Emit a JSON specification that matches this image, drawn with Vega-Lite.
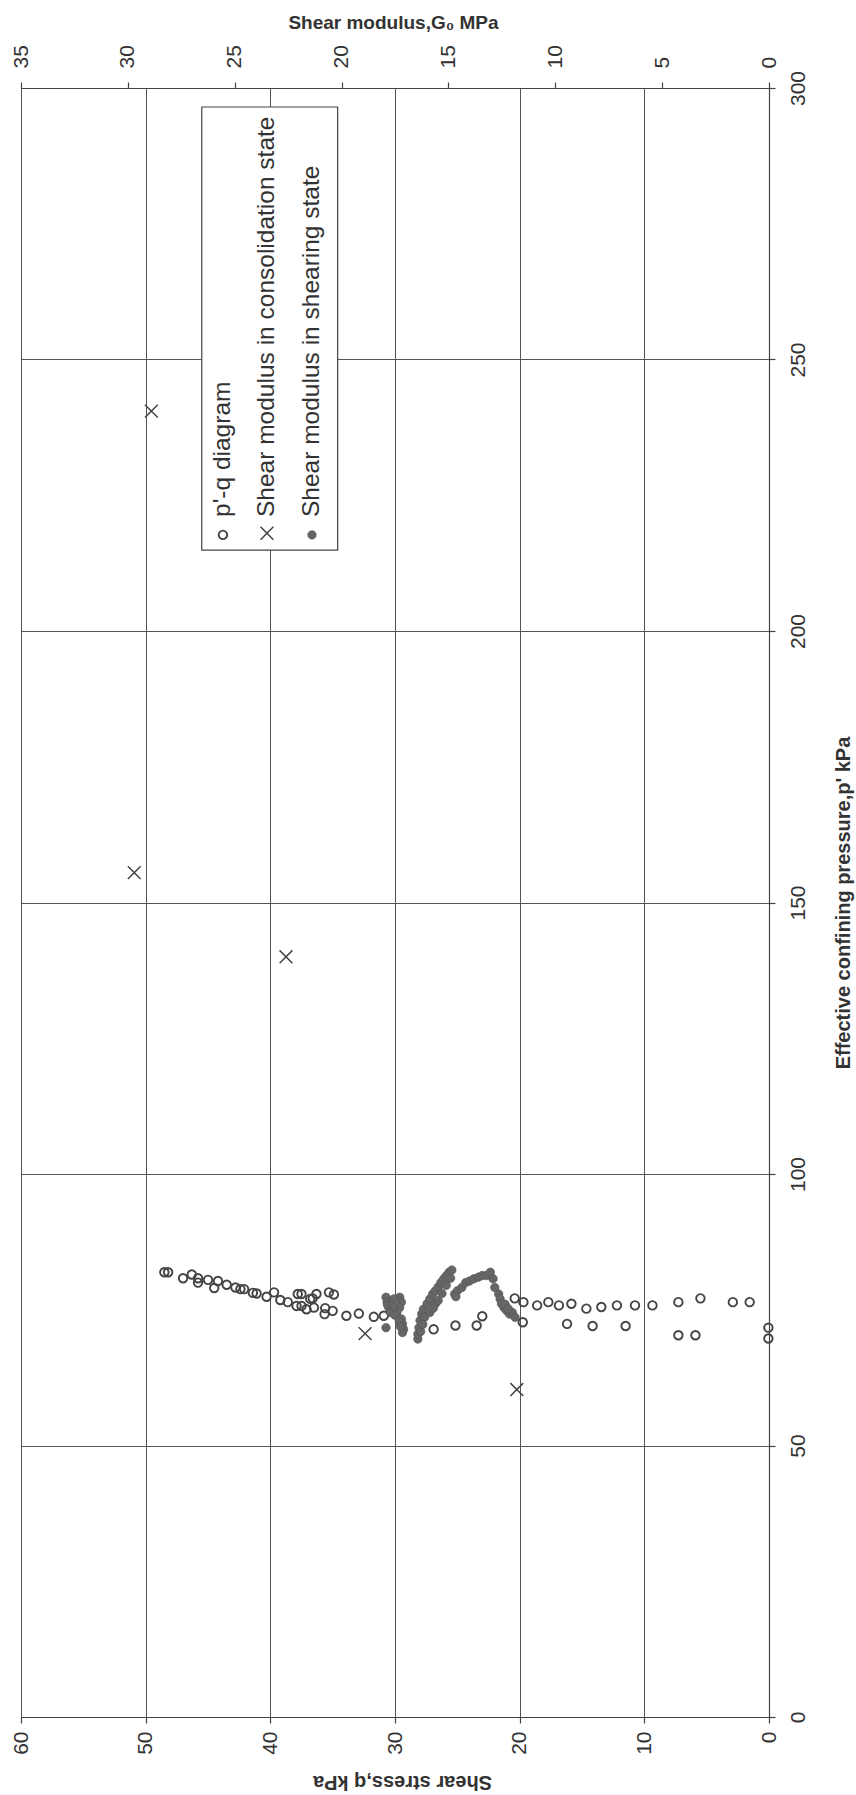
{
  "$schema": "https://vega.github.io/schema/vega-lite/v6.json",
  "autosize": "none",
  "padding": {"left": 21, "top": 88, "right": 87, "bottom": 78},
  "width": 748,
  "height": 1629,
  "background": "white",
  "config": {
    "view": {"stroke": null},
    "font": "Liberation Sans",
    "axis": {
      "domainColor": "#444",
      "domainWidth": 1.2,
      "tickColor": "#444",
      "tickWidth": 1.2,
      "tickSize": 6,
      "gridColor": "#555",
      "gridWidth": 1,
      "gridOpacity": 1,
      "labelColor": "#333",
      "labelFontSize": 21,
      "labelFont": "Liberation Sans",
      "labelFlush": false,
      "labelOverlap": false,
      "labelBound": false,
      "titleColor": "#333",
      "titleFont": "Liberation Sans",
      "titleFontSize": 20,
      "titleFontWeight": "bold"
    }
  },
  "layer": [
    {
      "layer": [
        {
          "data": {"values": [
            {"q": 48.5, "p": 81.9}, {"q": 48.2, "p": 81.9}, {"q": 47.0, "p": 80.8}, {"q": 46.3, "p": 81.5},
            {"q": 45.8, "p": 80.8}, {"q": 45.8, "p": 80.0}, {"q": 45.0, "p": 80.5}, {"q": 44.5, "p": 79.0},
            {"q": 44.2, "p": 80.3}, {"q": 43.5, "p": 79.6}, {"q": 42.8, "p": 79.1}, {"q": 42.4, "p": 78.8},
            {"q": 42.1, "p": 78.8}, {"q": 41.4, "p": 78.1}, {"q": 41.1, "p": 78.0}, {"q": 40.3, "p": 77.4},
            {"q": 39.7, "p": 78.2}, {"q": 39.2, "p": 76.8}, {"q": 38.6, "p": 76.4}, {"q": 37.9, "p": 75.7},
            {"q": 37.5, "p": 75.7}, {"q": 37.8, "p": 77.9}, {"q": 37.5, "p": 77.9}, {"q": 37.1, "p": 75.1},
            {"q": 36.8, "p": 77.0}, {"q": 36.5, "p": 75.4}, {"q": 36.3, "p": 77.9}, {"q": 36.6, "p": 77.1},
            {"q": 35.65, "p": 74.2}, {"q": 35.6, "p": 75.3}, {"q": 35.3, "p": 78.2}, {"q": 34.9, "p": 77.8},
            {"q": 35.0, "p": 74.8}, {"q": 33.9, "p": 73.9}, {"q": 32.9, "p": 74.3}, {"q": 31.7, "p": 73.7},
            {"q": 30.9, "p": 73.9},
            {"q": 20.4, "p": 77.1}, {"q": 19.7, "p": 76.4}, {"q": 18.6, "p": 75.8}, {"q": 17.7, "p": 76.4},
            {"q": 16.85, "p": 75.8}, {"q": 15.85, "p": 76.1}, {"q": 14.65, "p": 75.2}, {"q": 13.45, "p": 75.5},
            {"q": 12.2, "p": 75.8}, {"q": 10.75, "p": 75.8}, {"q": 9.35, "p": 75.8}, {"q": 7.27, "p": 76.4},
            {"q": 5.5, "p": 77.1}, {"q": 2.9, "p": 76.4}, {"q": 1.55, "p": 76.4},
            {"q": 26.9, "p": 71.4}, {"q": 25.15, "p": 72.1}, {"q": 23.45, "p": 72.1}, {"q": 23.0, "p": 73.8},
            {"q": 19.75, "p": 72.7}, {"q": 16.2, "p": 72.4}, {"q": 14.15, "p": 72.0}, {"q": 11.5, "p": 72.0},
            {"q": 7.27, "p": 70.3}, {"q": 5.9, "p": 70.3}, {"q": 0.05, "p": 71.7}, {"q": 0.05, "p": 69.7}
          ]},
          "mark": {"type": "point", "shape": "circle", "filled": false, "color": "#444", "strokeWidth": 1.9, "size": 72, "opacity": 1},
          "encoding": {
            "x": {
              "field": "q",
              "type": "quantitative",
              "scale": {"domain": [0, 60], "reverse": true, "nice": false, "zero": false},
              "axis": {
                "orient": "bottom",
                "values": [0, 10, 20, 30, 40, 50, 60],
                "grid": true,
                "labelAngle": 270,
                "labelAlign": "right",
                "labelBaseline": "middle",
                "labelPadding": 8,
                "title": "Shear stress,q kPa",
                "titleAngle": 180,
                "titleAlign": "center",
                "titleBaseline": "middle",
                "titleX": 381,
                "titleY": 64
              }
            },
            "y": {
              "field": "p",
              "type": "quantitative",
              "scale": {"domain": [0, 300], "nice": false, "zero": false},
              "axis": {
                "orient": "right",
                "values": [0, 50, 100, 150, 200, 250, 300],
                "grid": true,
                "labelAngle": 270,
                "labelAlign": "center",
                "labelBaseline": "top",
                "labelPadding": 12,
                "title": "Effective confining pressure,p' kPa",
                "titleAngle": 270,
                "titleAlign": "center",
                "titleBaseline": "middle",
                "titleX": 74,
                "titleY": 814.5
              }
            }
          }
        },
        {
          "data": {"values": [{"item": "legend box"}]},
          "mark": {"type": "rect", "fill": "white", "stroke": "#444", "strokeWidth": 1.2},
          "encoding": {
            "x": {"datum": 45.5, "type": "quantitative"},
            "x2": {"datum": 34.6},
            "y": {"datum": 214.9, "type": "quantitative"},
            "y2": {"datum": 296.5}
          }
        },
        {
          "data": {"values": [{"label": "p'-q diagram"}]},
          "mark": {"type": "text", "angle": 270, "align": "left", "baseline": "middle", "fontSize": 24.5, "color": "#333", "font": "Liberation Sans"},
          "encoding": {
            "x": {"datum": 43.8, "type": "quantitative"},
            "y": {"datum": 221.0, "type": "quantitative"},
            "text": {"field": "label"}
          }
        },
        {
          "data": {"values": [{"label": "Shear modulus in consolidation state"}]},
          "mark": {"type": "text", "angle": 270, "align": "left", "baseline": "middle", "fontSize": 24.5, "color": "#333", "font": "Liberation Sans"},
          "encoding": {
            "x": {"datum": 40.27, "type": "quantitative"},
            "y": {"datum": 221.0, "type": "quantitative"},
            "text": {"field": "label"}
          }
        },
        {
          "data": {"values": [{"label": "Shear modulus in shearing state"}]},
          "mark": {"type": "text", "angle": 270, "align": "left", "baseline": "middle", "fontSize": 24.5, "color": "#333", "font": "Liberation Sans"},
          "encoding": {
            "x": {"datum": 36.66, "type": "quantitative"},
            "y": {"datum": 221.0, "type": "quantitative"},
            "text": {"field": "label"}
          }
        },
        {
          "data": {"values": [{"item": "legend symbol pq"}]},
          "mark": {"type": "point", "shape": "circle", "filled": false, "color": "#444", "strokeWidth": 1.9, "size": 72, "opacity": 1},
          "encoding": {
            "x": {"datum": 43.8, "type": "quantitative"},
            "y": {"datum": 217.7, "type": "quantitative"}
          }
        },
        {
          "data": {"values": [{"item": "legend symbol consolidation"}]},
          "mark": {"type": "point", "shape": "M-1,-1L1,1M-1,1L1,-1", "filled": false, "color": "#444", "strokeWidth": 1.5, "size": 165, "opacity": 1},
          "encoding": {
            "x": {"datum": 40.27, "type": "quantitative"},
            "y": {"datum": 218.0, "type": "quantitative"}
          }
        },
        {
          "data": {"values": [{"item": "legend symbol shearing"}]},
          "mark": {"type": "point", "shape": "circle", "filled": true, "color": "#666", "stroke": "#555", "strokeWidth": 0.6, "size": 72, "opacity": 1},
          "encoding": {
            "x": {"datum": 36.66, "type": "quantitative"},
            "y": {"datum": 217.7, "type": "quantitative"}
          }
        }
      ]
    },
    {
      "layer": [
        {
          "data": {"values": [
            {"G": 17.92, "p": 77.3}, {"G": 17.87, "p": 76.4}, {"G": 17.79, "p": 75.4}, {"G": 17.71, "p": 74.5},
            {"G": 17.85, "p": 75.9}, {"G": 17.28, "p": 77.3}, {"G": 17.2, "p": 76.4}, {"G": 17.28, "p": 75.4},
            {"G": 17.41, "p": 74.5}, {"G": 17.61, "p": 75.9}, {"G": 17.55, "p": 77.0}, {"G": 17.5, "p": 74.0},
            {"G": 17.92, "p": 71.7}, {"G": 17.2, "p": 73.3}, {"G": 17.15, "p": 72.4}, {"G": 17.1, "p": 71.4},
            {"G": 17.15, "p": 70.8}, {"G": 17.3, "p": 72.9}, {"G": 17.25, "p": 71.9},
            {"G": 16.43, "p": 69.6}, {"G": 16.43, "p": 70.5}, {"G": 16.38, "p": 71.7}, {"G": 16.33, "p": 73.0},
            {"G": 16.25, "p": 74.2}, {"G": 16.17, "p": 75.1}, {"G": 16.0, "p": 76.1}, {"G": 15.87, "p": 77.0},
            {"G": 15.74, "p": 77.9}, {"G": 15.61, "p": 78.5}, {"G": 15.48, "p": 79.2}, {"G": 15.35, "p": 80.0},
            {"G": 15.22, "p": 80.7}, {"G": 15.09, "p": 81.3}, {"G": 14.97, "p": 81.9}, {"G": 14.84, "p": 82.3},
            {"G": 16.12, "p": 73.6}, {"G": 15.87, "p": 74.5}, {"G": 15.61, "p": 76.1}, {"G": 15.48, "p": 76.7},
            {"G": 16.3, "p": 71.0}, {"G": 16.2, "p": 72.3}, {"G": 15.7, "p": 75.3}, {"G": 15.3, "p": 78.0},
            {"G": 15.1, "p": 79.5}, {"G": 14.9, "p": 80.8},
            {"G": 14.71, "p": 77.9}, {"G": 14.58, "p": 78.5}, {"G": 14.37, "p": 79.1}, {"G": 14.19, "p": 80.0},
            {"G": 14.01, "p": 80.3}, {"G": 13.81, "p": 80.7}, {"G": 13.6, "p": 81.0}, {"G": 13.42, "p": 81.3},
            {"G": 13.22, "p": 81.3}, {"G": 13.04, "p": 81.9}, {"G": 12.91, "p": 80.7}, {"G": 12.83, "p": 79.1},
            {"G": 12.65, "p": 77.9}, {"G": 12.58, "p": 77.0}, {"G": 12.52, "p": 76.1}, {"G": 12.4, "p": 75.4},
            {"G": 12.27, "p": 74.8}, {"G": 12.14, "p": 74.2}, {"G": 12.01, "p": 74.5}, {"G": 11.88, "p": 73.6},
            {"G": 14.65, "p": 77.4}, {"G": 12.35, "p": 76.0}, {"G": 12.2, "p": 75.2}
          ]},
          "mark": {"type": "point", "shape": "circle", "filled": true, "color": "#666", "stroke": "#555", "strokeWidth": 0.6, "size": 72, "opacity": 1},
          "encoding": {
            "x": {
              "field": "G",
              "type": "quantitative",
              "scale": {"domain": [0, 35], "reverse": true, "nice": false, "zero": false},
              "axis": {
                "orient": "top",
                "values": [0, 5, 10, 15, 20, 25, 30, 35],
                "grid": false,
                "labelAngle": 270,
                "labelAlign": "left",
                "labelBaseline": "middle",
                "labelPadding": 14,
                "title": "Shear modulus,G₀ MPa",
                "titleAngle": 0,
                "titleAlign": "center",
                "titleBaseline": "middle",
                "titleFontSize": 19,
                "titleX": 372,
                "titleY": -66
              }
            },
            "y": {"field": "p", "type": "quantitative"}
          }
        },
        {
          "data": {"values": [
            {"G": 18.9, "p": 70.6}, {"G": 11.8, "p": 60.3}, {"G": 29.7, "p": 155.5}, {"G": 22.6, "p": 140.0}, {"G": 28.9, "p": 240.5}
          ]},
          "mark": {"type": "point", "shape": "M-1,-1L1,1M-1,1L1,-1", "filled": false, "color": "#444", "strokeWidth": 1.5, "size": 165, "opacity": 1},
          "encoding": {
            "x": {"field": "G", "type": "quantitative"},
            "y": {"field": "p", "type": "quantitative"}
          }
        }
      ]
    }
  ],
  "resolve": {"scale": {"x": "independent"}, "axis": {"x": "independent"}}
}
